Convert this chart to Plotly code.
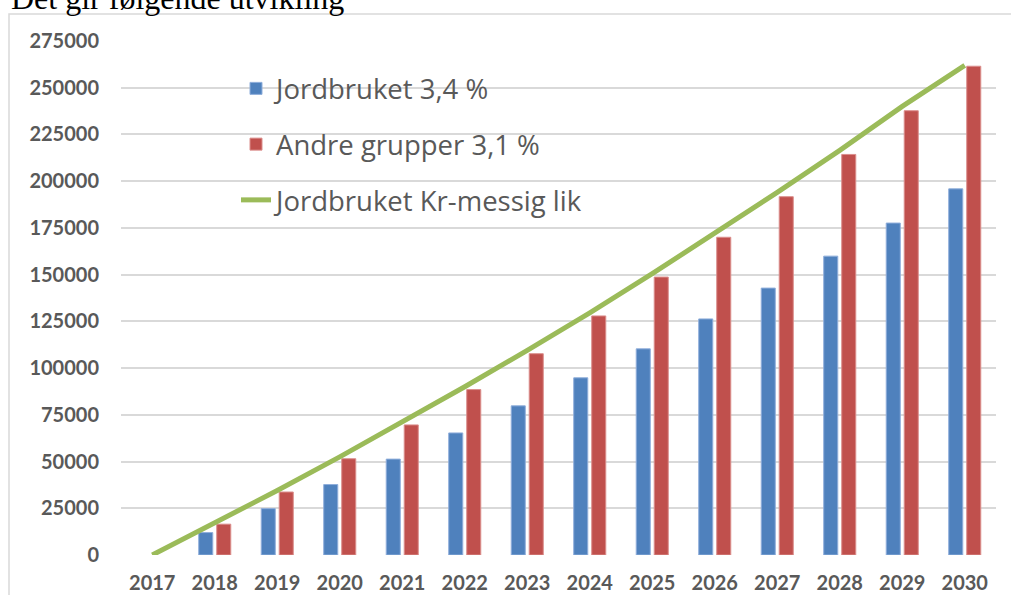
import plotly.graph_objects as go

years = [str(y) for y in range(2017, 2031)]
bar_years = years[1:]
jordbruket = [12000, 24800, 37700, 51300, 65300, 79800, 94800, 110300, 126300, 142800, 159900, 177600, 195900]
andre = [16500, 33700, 51500, 69600, 88500, 107700, 127900, 148700, 170000, 191700, 214300, 237700, 261500]
kr_lik = [0, 17000, 34500, 52500, 71000, 90000, 109500, 129500, 150500, 172000, 194000, 216500, 240000, 262000]
y_ticks = list(range(0, 275001, 25000))

W, H = 1011, 595
ml, mr, mt, mb = 121, 15, 41, 40
ph = H - mt - mb
pw = W - ml - mr

grey = "#595959"
fig = go.Figure()
fig.add_trace(go.Bar(x=bar_years, y=jordbruket, name="Jordbruket 3,4 %",
                     marker=dict(color="#4F81BD", line=dict(color="#8FAEDB", width=1)),
                     legendgroup="a"))
fig.add_trace(go.Bar(x=bar_years, y=andre, name="Andre grupper 3,1 %",
                     marker=dict(color="#C0504D", line=dict(color="#DB8E8C", width=1)),
                     legendgroup="b"))
fig.add_trace(go.Scatter(x=years, y=kr_lik, name="Jordbruket Kr-messig lik", mode="lines",
                         line=dict(color="#9BBB59", width=5), legendgroup="c"))

fig.update_layout(
    width=W, height=H,
    margin=dict(l=ml, r=mr, t=mt, b=mb, autoexpand=False),
    paper_bgcolor="white", plot_bgcolor="white",
    barmode="group", bargap=0.424, bargroupgap=0.22,
    font=dict(family="Lato", color=grey),
    legend=dict(x=(236 - ml) / pw, y=1 - (64 - mt) / ph, xanchor="left", yanchor="top",
                font=dict(family="Open Sans", size=27.5, color=grey),
                tracegroupgap=17, bgcolor="rgba(0,0,0,0)", traceorder="grouped"),
    xaxis=dict(type="category", categoryorder="array", categoryarray=years,
               range=[-0.5, len(years) - 0.5], showgrid=False, showline=False, ticks="",
               tickfont=dict(family="Lato", size=20, color=grey, weight="bold"),
               ticklabelstandoff=14),
    yaxis=dict(range=[0, 275000], tickvals=y_ticks, ticktext=[str(v) for v in y_ticks],
               showgrid=True, gridcolor="#D9D9D9", gridwidth=1.5, zeroline=False,
               showline=False, ticks="",
               tickfont=dict(family="Lato", size=20, color=grey, weight="bold"),
               ticklabelstandoff=21),
    shapes=[dict(type="rect", xref="paper", yref="paper",
                 x0=(9 - ml) / pw, x1=(W + 5 - ml) / pw,
                 y0=-(H + 5 - mt - ph) / ph, y1=1 + (mt - 14) / ph,
                 line=dict(color="#D9D9D9", width=1.5), fillcolor="rgba(0,0,0,0)", layer="below")],
    annotations=[dict(text="Det gir følgende utvikling", xref="paper", yref="paper",
                      x=(10 - ml) / pw, y=1 + (mt - 17.5) / ph, xanchor="left", yanchor="bottom",
                      showarrow=False, borderpad=0,
                      font=dict(family="Liberation Serif", size=32, color="black"))],
)

fig.write_html("out.html", config={"displayModeBar": False})

with open("out.html", "r", encoding="utf-8") as f:
    html = f.read()
html = html.replace("<head>", "<head><style>html,body{margin:0;padding:0;overflow:hidden;}</style>", 1)
with open("out.html", "w", encoding="utf-8") as f:
    f.write(html)
